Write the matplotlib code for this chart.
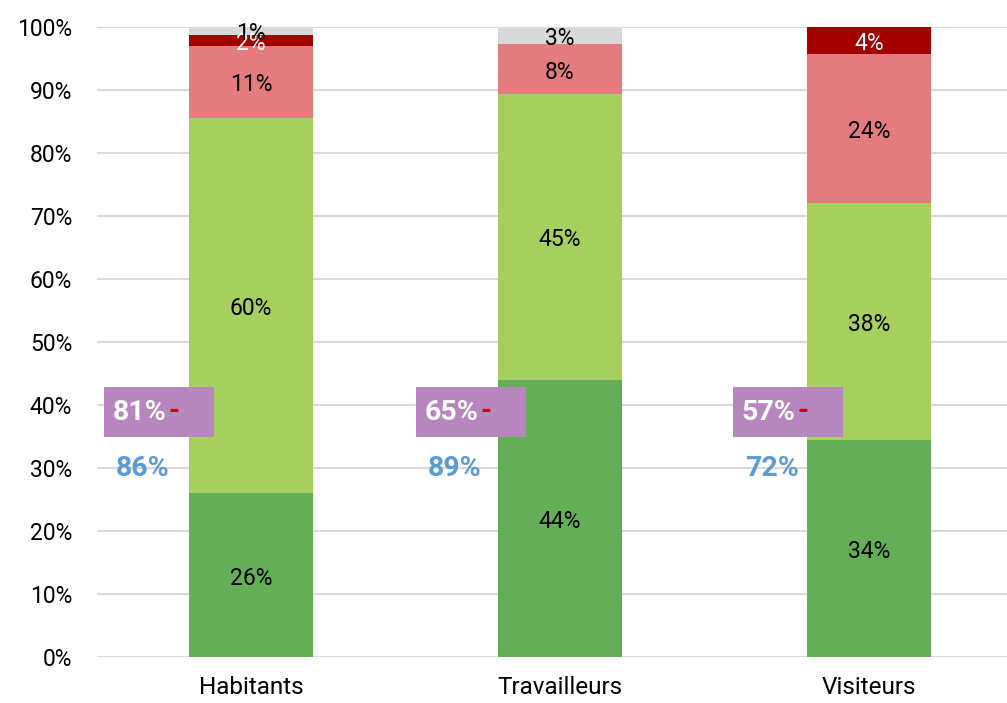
import matplotlib
matplotlib.use("Agg")
import matplotlib.pyplot as plt
from matplotlib.patches import Rectangle
import numpy as np

plt.rcParams['font.family'] = ['Roboto', 'DejaVu Sans']

categories = ["Habitants", "Travailleurs", "Visiteurs"]
seg_dark_green = [26.0, 44.0, 34.4]
seg_light_green = [59.6, 45.4, 37.7]
seg_pink = [11.4, 7.9, 23.6]
seg_dark_red = [1.8, 0.0, 4.3]
seg_grey = [1.2, 2.7, 0.0]
box_values = [81, 65, 57]
blue_values = [86, 89, 72]
yticks = [0, 10, 20, 30, 40, 50, 60, 70, 80, 90, 100]

# layout of the annotation boxes (offsets from bar centre, in category units)
box_offsets = [-0.476, -0.466, -0.440]

series = [
    (seg_dark_green, "#63AE56", "black"),
    (seg_light_green, "#A6CF5E", "black"),
    (seg_pink, "#E47B7E", "black"),
    (seg_dark_red, "#A50000", "white"),
    (seg_grey, "#D9D9D9", "black"),
]

W, H = 1007, 703
fig = plt.figure(figsize=(W / 100, H / 100), dpi=100)
ax = fig.add_axes([96.5 / W, (H - 657) / H, (W - 96.5) / W, 630 / H])

x = np.arange(len(categories))
bottom = np.zeros(len(categories))
for vals, color, tcol in series:
    vals = np.array(vals)
    ax.bar(x, vals, width=0.4, bottom=bottom, color=color, zorder=2)
    for xi, b, v in zip(x, bottom, vals):
        if v > 0:
            ax.text(xi, b + v / 2 - 0.5, f"{v:.0f}%", ha="center", va="center",
                    fontsize=16.5, color=tcol, zorder=3)
    bottom += vals

for xi, off, bv, blv in zip(x, box_offsets, box_values, blue_values):
    ax.add_patch(Rectangle((xi + off, 34.9), 0.356, 8.0, facecolor="#B886BE",
                           edgecolor="none", zorder=4))
    ax.text(xi + off + 0.027, 38.8, f"{bv}%", ha="left", va="center", fontsize=20.5,
            fontweight="bold", color="white", zorder=5)
    ax.text(xi + off + 0.227, 39.0, "-", ha="center", va="center", fontsize=20.5,
            fontweight="bold", color="#E00000", zorder=5)
    ax.text(xi + off + 0.126, 30.0, f"{blv}%", ha="center", va="center", fontsize=20.5,
            fontweight="bold", color="#5B9BD5", zorder=5)

ax.set_xlim(-0.5, 2.5 - 16.5 / 309)
ax.set_ylim(0, 100)
ax.set_yticks(yticks)
ax.set_yticklabels([f"{v}%" for v in yticks], fontsize=16.5)
ax.set_xticks(x)
ax.set_xticklabels(categories, fontsize=17.5)
ax.tick_params(axis="both", length=0)
ax.tick_params(axis="x", pad=14)
ax.tick_params(axis="y", pad=17.5)
ax.grid(axis="y", color="#D9D9D9", linewidth=1.5, zorder=0)
ax.set_axisbelow(True)
for s in ax.spines.values():
    s.set_visible(False)

fig.savefig("out.png", dpi=100)
